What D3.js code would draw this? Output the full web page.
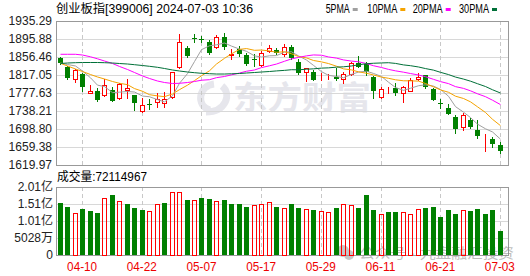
<!DOCTYPE html>
<html>
<head>
<meta charset="utf-8">
<script src="https://cdn.jsdelivr.net/npm/d3@7"></script>
<style>
html,body{margin:0;padding:0;background:#fff;}
svg{display:block;}
text{font-family:"Liberation Sans",Arial,"Noto Sans CJK SC",sans-serif;}
</style>
</head>
<body>
<svg id="svg" width="530" height="276"></svg>
<script>

// ---- data ----
var dates=['04-03','04-08','04-09','04-10','04-11','04-12','04-15','04-16','04-17','04-18',
           '04-19','04-22','04-23','04-24','04-25','04-26','04-29','04-30','05-06','05-07',
           '05-08','05-09','05-10','05-13','05-14','05-15','05-16','05-17','05-20','05-21',
           '05-22','05-23','05-24','05-27','05-28','05-29','05-30','05-31','06-03','06-04',
           '06-05','06-06','06-07','06-11','06-12','06-13','06-14','06-17','06-18','06-19',
           '06-20','06-21','06-24','06-25','06-26','06-27','06-28','07-01','07-02','07-03'];

var open=[1853.6,1833.5,1808.3,1819.2,1778.7,1782.0,1772.2,1784.2,1766.0,1784.2,
          1772.6,1738.9,1754.6,1758.6,1755.7,1769.5,1833.9,1876.8,1898.1,1896.8,
          1888.6,1878.4,1900.3,1861.9,1874.0,1860.8,1851.0,1838.9,1870.3,1871.8,
          1864.1,1878.4,1846.2,1824.7,1824.3,1809.4,1812.7,1813.3,1807.6,1818.6,
          1842.7,1840.5,1812.0,1768.2,1779.2,1787.9,1778.7,1782.7,1807.6,1817.0,
          1786.4,1756.4,1744.1,1725.7,1702.5,1718.5,1696.6,1680.2,1676.3,1663.8];
var high=[1855.4,1836.8,1830.2,1822.5,1796.2,1788.6,1808.3,1790.8,1798.9,1808.3,
          1774.3,1766.0,1764.5,1778.7,1779.8,1824.7,1906.2,1881.2,1907.5,1903.1,
          1893.7,1904.6,1909.0,1874.0,1880.5,1865.2,1863.0,1870.3,1882.7,1875.1,
          1884.9,1883.8,1852.1,1832.4,1826.9,1820.8,1819.2,1831.7,1824.3,1846.2,
          1858.7,1844.9,1813.8,1790.1,1790.8,1800.2,1792.5,1810.5,1820.8,1818.1,
          1787.5,1764.5,1754.6,1729.5,1733.2,1721.8,1719.6,1687.9,1681.9,1669.7];
var low=[1841.1,1808.3,1802.4,1782.7,1777.0,1760.1,1771.1,1760.1,1763.4,1766.0,
         1740.4,1736.7,1741.9,1746.3,1747.6,1766.0,1832.8,1857.1,1890.4,1889.3,
         1862.4,1875.1,1873.3,1852.1,1857.6,1839.4,1836.8,1837.8,1868.5,1863.0,
         1858.7,1852.5,1819.2,1804.6,1805.4,1806.1,1807.6,1806.8,1800.2,1817.0,
         1835.0,1818.1,1766.0,1767.6,1778.5,1773.3,1758.6,1782.0,1807.0,1789.0,
         1761.6,1743.7,1730.6,1691.1,1696.6,1701.0,1678.4,1651.3,1660.0,1646.9];
var close=[1842.7,1810.5,1828.0,1791.4,1782.0,1762.3,1795.2,1761.2,1796.7,1789.2,
           1756.4,1751.4,1753.5,1765.2,1764.5,1823.0,1888.6,1859.3,1897.0,1894.8,
           1865.2,1899.6,1879.0,1863.0,1862.4,1840.5,1849.9,1865.9,1876.8,1864.6,
           1878.4,1853.6,1820.8,1831.7,1806.1,1809.8,1813.3,1807.6,1818.6,1842.7,
           1835.2,1823.0,1782.7,1785.7,1779.8,1777.0,1791.4,1806.1,1813.3,1789.7,
           1763.0,1755.1,1731.6,1699.5,1729.5,1703.2,1683.5,1680.6,1664.9,1650.0];
var prevClose=1850.0;   // close of the day before the first bar

var volume=[152600000,142900000,125000000,135000000,129000000,125000000,169500000,176000000,160600000,149700000,
            140000000,132000000,131000000,151700000,152600000,187000000,187000000,163600000,163600000,167500000,
            167000000,160600000,163600000,149700000,149700000,140800000,148800000,151700000,157700000,140800000,
            140000000,151700000,140000000,137000000,134000000,131000000,128000000,140000000,151700000,148800000,
            137900000,176000000,134000000,122000000,128000000,128000000,128000000,122000000,137000000,140000000,
            142900000,113000000,134000000,122000000,134000000,131000000,137000000,122000000,134000000,72114967];

// MA values at the first bars, whose window reaches before the first shown day
var ma5Lead=[1843.3,1840.0,1836.8,1825.8];
var ma10Lead=[1842.7,1836.8,1830.2,1824.7,1818.1,1812.7,1808.3,1802.8,1798.9];
var ma20Lead=[1862.4,1862.4,1862.4,1860.8,1856.9,1852.5,1847.7,1842.2,1835.7,1829.1,
              1822.5,1814.9,1809.4,1803.9,1800.6,1798.4,1798.9,1800.6,1802.8];
var ma30Lead=[1842.2,1843.3,1844.0,1844.4,1844.4,1844.4,1844.0,1843.3,1842.2,1841.1,
              1839.6,1837.8,1836.1,1833.9,1831.3,1828.0,1825.8,1823.6,1822.1,1820.8,
              1819.9,1819.2,1819.2,1819.7,1820.3,1821.4,1822.5,1823.6,1824.7];

var priceTicks=[1935.29,1895.88,1856.46,1817.05,1777.63,1738.21,1698.80,1659.38,1619.97];
var volTicks=[0,50280000,100570000,150850000,201140000];
var volTickLabels=['0','5028万','1.01亿','1.51亿','2.01亿'];
var xTickLabels=['04-10','04-22','05-07','05-17','05-29','06-11','06-21','07-03'];
var maNames=['5PMA','10PMA','20PMA','30PMA'];

// ---- layout ----
var svg=d3.select("#svg");
var box={left:56, right:509, top:21, bottom:165, vTop:187, vBottom:255};
var up='#ff0000', down='#008000';
var maColors=['#a0a0a0','#f5a300','#ff00ff','#007038'];

var xScale=d3.scaleBand().domain(dates).range([box.left, box.left+dates.length*7.46]);
var yScale=d3.scaleLinear().domain([priceTicks[priceTicks.length-1],priceTicks[0]]).range([box.bottom,box.top]);
var vScale=d3.scaleLinear().domain([0,volTicks[volTicks.length-1]]).range([box.vBottom,box.vTop]);

function cx(d){ return Math.round(xScale(d)+xScale.bandwidth()/2); }
function px(v){ return Math.round(v)+0.5; }

// watermarks
var wm=svg.append("g");
wm.append("path")
   .attr("d","M214,84 C198,86 196,106 210,110 M222,86 C232,94 226,112 206,112")
   .attr("fill","none").attr("stroke","#e6e6ec").attr("stroke-width",7);
wm.append("text").attr("x",233).attr("y",109).text("东方财富")
   .attr("font-family","Noto Sans CJK SC").attr("font-weight","bold").attr("font-size",32)
   .attr("textLength",138).attr("lengthAdjust","spacingAndGlyphs")
   .attr("fill","#e6e6ec");

// grid
var grid=svg.append("g").attr("shape-rendering","crispEdges");
grid.selectAll(".hp").data(priceTicks).enter().append("line")
    .attr("x1",box.left).attr("x2",box.right)
    .attr("y1",function(d){return px(yScale(d));}).attr("y2",function(d){return px(yScale(d));})
    .attr("stroke","#d8d8d8");
grid.selectAll(".hv").data(volTicks).enter().append("line")
    .attr("x1",box.left).attr("x2",box.right)
    .attr("y1",function(d){return px(vScale(d));}).attr("y2",function(d){return px(vScale(d));})
    .attr("stroke","#d8d8d8");
[[box.top,box.bottom],[box.vTop,box.vBottom]].forEach(function(r){
  grid.selectAll(null).data(xTickLabels).enter().append("line")
      .attr("x1",function(d){return cx(d)+0.5;}).attr("x2",function(d){return cx(d)+0.5;})
      .attr("y1",r[0]).attr("y2",r[1])
      .attr("stroke","#c8c8c8").attr("stroke-dasharray","4,3");
});

// panel frames
svg.append("rect").attr("x",box.left+0.5).attr("y",box.top+0.5)
   .attr("width",box.right-box.left-1).attr("height",box.bottom-box.top)
   .attr("fill","none").attr("stroke","#999").attr("shape-rendering","crispEdges");
svg.append("rect").attr("x",box.left+0.5).attr("y",box.vTop+0.5)
   .attr("width",box.right-box.left-1).attr("height",box.vBottom-box.vTop)
   .attr("fill","none").attr("stroke","#999").attr("shape-rendering","crispEdges");

// bottom watermark
var wm2=svg.append("g").attr("opacity",0.55);
wm2.append("circle").attr("cx",343).attr("cy",251).attr("r",6).attr("fill","#9a9a9a");
wm2.append("circle").attr("cx",349).attr("cy",255).attr("r",5).attr("fill","#9a9a9a");
wm2.append("text").attr("x",359).attr("y",258).text("公众号 · 九盘融汇投资")
   .attr("font-family","Noto Sans CJK SC").attr("font-size",14)
   .attr("textLength",155).attr("lengthAdjust","spacingAndGlyphs")
   .attr("fill","#8a8a8a");

// candles
var bars=dates.map(function(d,i){
  return {d:d,o:open[i],h:high[i],l:low[i],c:close[i],v:volume[i],
          pc:i===0?prevClose:close[i-1]};
});
var cg=svg.append("g").attr("shape-rendering","crispEdges");
var cand=cg.selectAll("g").data(bars).enter().append("g");
cand.append("line")
    .attr("x1",function(b){return cx(b.d)+0.5;}).attr("x2",function(b){return cx(b.d)+0.5;})
    .attr("y1",function(b){return Math.round(yScale(b.h));})
    .attr("y2",function(b){return Math.round(yScale(b.l))+1;})
    .attr("stroke",function(b){return b.c>=b.o?up:down;});
cand.append("rect")
    .attr("x",function(b){return cx(b.d)-2+(b.c>=b.o?0.5:0);})
    .attr("width",function(b){return b.c>=b.o?4:5;})
    .attr("y",function(b){return Math.round(yScale(Math.max(b.o,b.c)))+(b.c>=b.o?0.5:0);})
    .attr("height",function(b){
        var hgt=Math.round(yScale(Math.min(b.o,b.c)))-Math.round(yScale(Math.max(b.o,b.c)));
        return b.c>=b.o?Math.max(hgt,0):Math.max(hgt,1);})
    .attr("fill",function(b){return b.c>=b.o?'#fff':down;})
    .attr("stroke",function(b){return b.c>=b.o?up:'none';});

// moving averages
function movingAvg(n,lead){
  return close.map(function(c,i){
    return i<n-1 ? lead[i] : d3.mean(close.slice(i-n+1,i+1));
  });
}
var maSeries=[movingAvg(5,ma5Lead),movingAvg(10,ma10Lead),movingAvg(20,ma20Lead),movingAvg(30,ma30Lead)];
var line=d3.line()
    .x(function(v,i){return cx(dates[i])+0.5;})
    .y(function(v){return yScale(v);});
svg.append("g").selectAll("path").data(maSeries).enter().append("path")
   .attr("d",line).attr("fill","none")
   .attr("stroke",function(s,i){return maColors[i];}).attr("stroke-width",1);

// volume bars
var vg=svg.append("g").attr("shape-rendering","crispEdges");
vg.selectAll("rect").data(bars).enter().append("rect")
  .attr("x",function(b){return cx(b.d)-2+(b.c>=b.pc?0.5:0);})
  .attr("width",function(b){return b.c>=b.pc?4:5;})
  .attr("y",function(b){return Math.round(vScale(b.v))+(b.c>=b.pc?0.5:0);})
  .attr("height",function(b){return box.vBottom-Math.round(vScale(b.v));})
  .attr("fill",function(b){return b.c>=b.pc?'none':down;})
  .attr("stroke",function(b){return b.c>=b.pc?up:'none';});

// axes
var yAxis=svg.append("g").attr("transform","translate("+box.left+",0)")
   .call(d3.axisLeft(yScale).tickValues(priceTicks).tickFormat(d3.format(".2f")).tickSize(0).tickPadding(4));
var vAxis=svg.append("g").attr("transform","translate("+box.left+",0)")
   .call(d3.axisLeft(vScale).tickValues(volTicks)
         .tickFormat(function(d,i){return volTickLabels[i];}).tickSize(0).tickPadding(3));
[yAxis,vAxis].forEach(function(a){
  a.select(".domain").remove();
  a.selectAll("text").attr("font-size",12).attr("fill","#222")
   .attr("font-family",'"Liberation Sans",Arial,"Noto Sans CJK SC",sans-serif');
});
var xAxis=svg.append("g").attr("transform","translate(0,"+box.vBottom+")")
   .call(d3.axisBottom(xScale).tickValues(xTickLabels).tickSize(0).tickPadding(7));
xAxis.select(".domain").remove();
xAxis.selectAll("text").attr("font-size",12).attr("fill","#ee0000")
   .attr("font-family",'"Liberation Mono",monospace')
   .attr("textLength",30).attr("lengthAdjust","spacingAndGlyphs");

// title, legend, volume caption
svg.append("text").attr("x",56).attr("y",13).text("创业板指[399006] 2024-07-03 10:36")
   .attr("font-family",'"Noto Sans CJK SC"').attr("font-size",12).attr("fill","#000")
   .attr("textLength",197).attr("lengthAdjust","spacingAndGlyphs");

var legX=[325.7,367.3,412.7,459];
var leg=svg.append("g").selectAll("g").data(maNames).enter().append("g")
   .attr("transform",function(d,i){return "translate("+legX[i]+",0)";});
leg.append("text").attr("y",13).text(function(d){return d;})
   .attr("font-family",'"Liberation Mono",monospace').attr("font-size",12).attr("fill","#000")
   .attr("textLength",function(d){return d.length*6;}).attr("lengthAdjust","spacingAndGlyphs");
leg.append("rect").attr("x",function(d){return d.length*6+3;}).attr("y",8).attr("width",5).attr("height",3)
   .attr("fill",function(d,i){return maColors[i];});

svg.append("text").attr("x",57).attr("y",181).text("成交量:"+volume[volume.length-1])
   .attr("font-family",'"Noto Sans CJK SC"').attr("font-size",12).attr("fill","#000")
   .attr("textLength",90).attr("lengthAdjust","spacingAndGlyphs");

</script>
</body>
</html>
